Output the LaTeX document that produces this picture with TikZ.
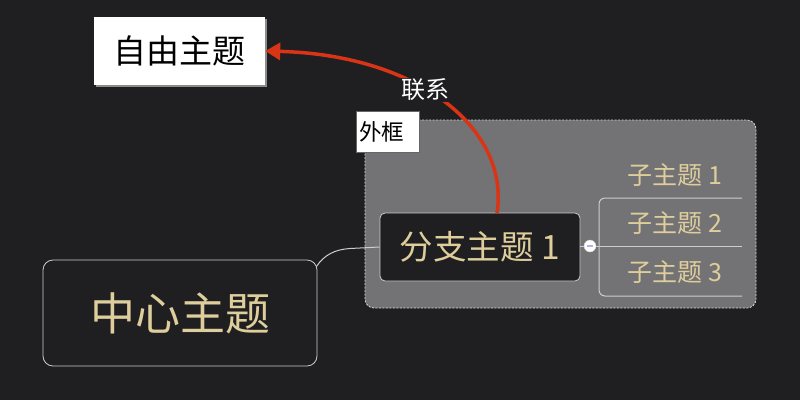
\documentclass[tikz,border=0pt]{standalone}
\usepackage{fontspec}
\newfontfamily\cjk{Noto Sans CJK SC}
\usetikzlibrary{arrows.meta}
\definecolor{canvas}{RGB}{31,30,33}
\definecolor{topictext}{RGB}{222,206,156}
\definecolor{framefill}{RGB}{115,114,116}
\definecolor{edgegrey}{RGB}{205,205,205}
\definecolor{relred}{RGB}{218,52,22}
\tikzset{
  topicbox/.style={draw=edgegrey, line width=0.8pt, fill=canvas, text=topictext, inner sep=0pt},
  subtopic/.style={text=topictext, inner sep=0pt, font=\cjk\fontsize{25}{25}\selectfont},
  branchline/.style={draw=edgegrey, line width=1pt},
  relation/.style={draw=relred, line width=3.5pt, -{Triangle[length=15pt,width=17pt]}},
}
\begin{document}
\begin{tikzpicture}[x=1pt,y=-1pt]
  \useasboundingbox[fill=canvas] (0,0) rectangle (800,400);

  % outline frame around the branch
  \draw[fill=framefill, draw=edgegrey!80, dashed, dash pattern=on 2pt off 1.5pt, rounded corners=9pt, line width=0.8pt]
    (365,120) rectangle (756,308);

  % central topic
  \node[topicbox, rounded corners=10pt, minimum width=274pt, minimum height=106pt,
        font=\cjk\fontsize{45}{45}\selectfont] (center) at (180,313) {中心主题};

  % main branch
  \node[topicbox, rounded corners=5pt, minimum width=200pt, minimum height=68pt,
        font=\cjk\fontsize{33.5}{33.5}\selectfont] (branch) at (480,247) {分支主题 1};

  % connector from the central topic to the branch
  \coordinate (cjoin) at (350,248.5);
  \draw[branchline] (center.north east) ++(-1,7) .. controls +(8,-12) and +(-15,1) .. (cjoin) -- (branch.west);

  % subtopics with their underlines
  \node[subtopic] (sub1) at (675,175) {子主题 1};
  \node[subtopic] (sub2) at (675,223) {子主题 2};
  \node[subtopic] (sub3) at (675,272) {子主题 3};
  \coordinate (u1) at (742,198);
  \coordinate (u2) at (742,246);
  \coordinate (u3) at (742,296);
  \coordinate (fork) at (599,246);

  % collapse toggle
  \node[circle, fill=white, draw=edgegrey, minimum size=12pt, inner sep=0pt] (toggle) at (590,246) {};
  \draw[draw=black!35!blue!30, line width=1.5pt] (587,246) -- (593,246);

  \draw[branchline] (branch.east |- toggle) -- (toggle.west);
  \draw[branchline] (toggle.east) -- (u2);
  \draw[branchline, rounded corners=6pt] (fork) |- (u1);
  \draw[branchline, rounded corners=6pt] (fork) |- (u3);

  % free topic with a soft drop edge
  \fill[black!45] (96,19) rectangle (267,87);
  \node[fill=white, inner sep=0pt, minimum width=171pt, minimum height=68pt,
        font=\cjk\fontsize{33}{33}\selectfont, text=black] (free) at (179.5,51) {自由主题};

  % relationship
  \coordinate (relstart) at (497,213);
  \draw[relation] (relstart) .. controls (510,130) and (420,55) .. (free.east);
  \node[fill=canvas, text=white, inner sep=1pt, font=\cjk\fontsize{24}{24}\selectfont] (rellabel) at (425,90) {联系};

  % frame label
  \node[draw=black!60, fill=white, line width=0.8pt, inner sep=0pt, minimum width=63pt, minimum height=41pt] (framelabel) at (387.5,131.5) {};
  \node[anchor=west, inner sep=0pt, text=black, font=\cjk\fontsize{22.5}{22.5}\selectfont] (frametext) at (359,131.5) {外框};
\end{tikzpicture}
\end{document}
